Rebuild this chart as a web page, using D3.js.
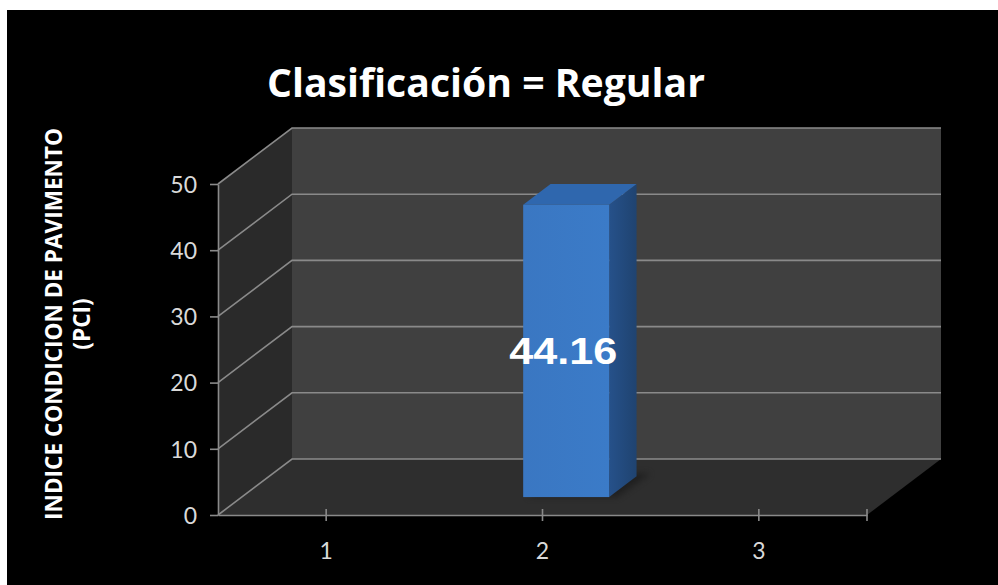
<!DOCTYPE html>
<html><head><meta charset="utf-8">
<script src="https://cdn.jsdelivr.net/npm/d3@7"></script>
<style>html,body{margin:0;padding:0;background:#fff;}svg{display:block;}</style>
</head><body>
<svg id="chart" width="998" height="585"></svg>
<script>
const title = "Clasificación = Regular";
const yTitleLines = ["INDICE CONDICION DE PAVIMENTO", "(PCI)"];
const categories = ["1", "2", "3"];
const values = [null, 44.16, null];
const yTicks = [0, 10, 20, 30, 40, 50];

const svg = d3.select("#chart");
svg.append("rect").attr("x", 7).attr("y", 10).attr("width", 991).attr("height", 575).attr("fill", "#000");

// geometry
const x0 = 218, x1 = 867, yBase = 515;
const depthX = 74, depthY = -56;
const x = d3.scaleBand().domain(categories).range([x0, x1]);
const yFront = d3.scaleLinear().domain([0, 50]).range([yBase, 184]);
const P = (px, v, t) => [px + depthX * t, yFront(v) + depthY * t];
const poly = pts => "M" + pts.map(p => p.join(",")).join("L") + "Z";

const gridColor = "#8a8a8a";
// back wall
svg.append("path").attr("d", poly([P(x0,0,1), P(x1,0,1), P(x1,50,1), P(x0,50,1)])).attr("fill", "#404040");
// left wall
svg.append("path").attr("d", poly([P(x0,0,0), P(x0,0,1), P(x0,50,1), P(x0,50,0)])).attr("fill", "#2a2a2a");
// floor
svg.append("path").attr("d", poly([P(x0,0,0), P(x1,0,0), P(x1,0,1), P(x0,0,1)])).attr("fill", "#2e2e2e");

// gridlines
yTicks.forEach(v => {
  const a = P(x0, v, 0), b = P(x0, v, 1), c = P(x1, v, 1);
  svg.append("path").attr("d", `M${a}L${b}L${c}`).attr("fill", "none")
    .attr("stroke", gridColor).attr("stroke-width", 1.6);
});

// bar
const t0 = 0.32, t1 = 0.69;
const barW = 86;
const defs = svg.append("defs");
const gf = defs.append("linearGradient").attr("id", "gf").attr("x1", 0).attr("x2", 1).attr("y1", 0).attr("y2", 0);
gf.append("stop").attr("offset", 0).attr("stop-color", "#3a77c2");
gf.append("stop").attr("offset", 1).attr("stop-color", "#3b7bc8");
const gs = defs.append("linearGradient").attr("id", "gs").attr("x1", 0).attr("x2", 1);
gs.append("stop").attr("offset", 0).attr("stop-color", "#26518a");
gs.append("stop").attr("offset", 1).attr("stop-color", "#1f4370");
categories.forEach((c, i) => {
  const v = values[i];
  if (v == null) return;
  const cx = x(c) + x.bandwidth() / 2;
  const l = cx - barW / 2, r = cx + barW / 2;
  // shadow
  svg.append("path").attr("d", poly([P(l+4,0,t0), P(r+8,0,t0), P(r+10,0,t1+0.05), P(l+10,0,t1+0.05)]))
    .attr("fill", "#1c1c1c").attr("opacity", 0.8).style("filter", "blur(3px)");
  // side
  svg.append("path").attr("d", poly([P(r,0,t0), P(r,0,t1), P(r,v,t1), P(r,v,t0)])).attr("fill", "url(#gs)");
  // top
  svg.append("path").attr("d", poly([P(l,v,t0), P(r,v,t0), P(r,v,t1), P(l,v,t1)])).attr("fill", "#2f67ae");
  // front
  const f0 = P(l, v, t0), f1 = P(r, 0, t0);
  svg.append("rect").attr("x", f0[0]).attr("y", f0[1]).attr("width", f1[0] - f0[0]).attr("height", f1[1] - f0[1])
    .attr("fill", "url(#gf)");
  // label
  const lab = P(cx, v / 2, t0);
  svg.append("text").attr("x", lab[0] - 3).attr("y", lab[1] + 13).attr("text-anchor", "middle")
    .attr("font-family", "Liberation Sans, Arial, sans-serif").attr("font-weight", "bold")
    .attr("font-size", 36).attr("fill", "#fff").attr("textLength", 108).attr("lengthAdjust", "spacingAndGlyphs")
    .text(v.toFixed(2));
});

// y axis
const yAxis = svg.append("g").attr("transform", `translate(${x0},0)`)
  .call(d3.axisLeft(yFront).tickValues(yTicks).tickSize(8).tickPadding(13).tickSizeOuter(0));
yAxis.attr("font-size", 23).attr("font-family", "Lato, Open Sans, sans-serif");
yAxis.select(".domain").attr("stroke", gridColor).attr("stroke-width", 1.6);
yAxis.selectAll(".tick line").attr("stroke", gridColor).attr("stroke-width", 1.6);
yAxis.selectAll(".tick text").attr("fill", "#d9d9d9").attr("dy", "0.36em");

// x axis
const xAxis = svg.append("g").attr("transform", `translate(0,${yBase})`)
  .call(d3.axisBottom(x).tickSize(6).tickPadding(22).tickSizeOuter(0));
xAxis.attr("font-size", 23).attr("font-family", "Lato, Open Sans, sans-serif");
xAxis.select(".domain").attr("stroke", gridColor).attr("stroke-width", 1.6);
xAxis.selectAll(".tick line").attr("stroke", gridColor).attr("stroke-width", 1.6).attr("y1", -6);
xAxis.selectAll(".tick text").attr("fill", "#d9d9d9");
xAxis.append("line").attr("x1", x1).attr("x2", x1).attr("y1", -6).attr("y2", 6)
  .attr("stroke", gridColor).attr("stroke-width", 1.6);

// title
const tt = svg.append("text").attr("x", 486).attr("y", 97).attr("text-anchor", "middle")
  .attr("font-family", "Open Sans, Lato, sans-serif").attr("font-weight", "bold")
  .attr("font-size", 40).attr("fill", "#fff").text(title);
const tw = tt.node().getComputedTextLength();
tt.attr("font-size", 40 * 438 / tw);

// y title
let ySize = 17;
yTitleLines.forEach((s, i) => {
  const t = svg.append("text").attr("transform", `translate(${62 + i * 28},${324}) rotate(-90)`)
    .attr("text-anchor", "middle").attr("font-family", "Open Sans, Lato, sans-serif")
    .attr("font-weight", "bold").attr("font-size", 17).attr("fill", "#fff").text(s);
  if (i === 0) {
    const w = t.node().getComputedTextLength();
    ySize = 17 * 392 / w;
  }
  t.attr("font-size", ySize);
});
</script>
</body></html>
